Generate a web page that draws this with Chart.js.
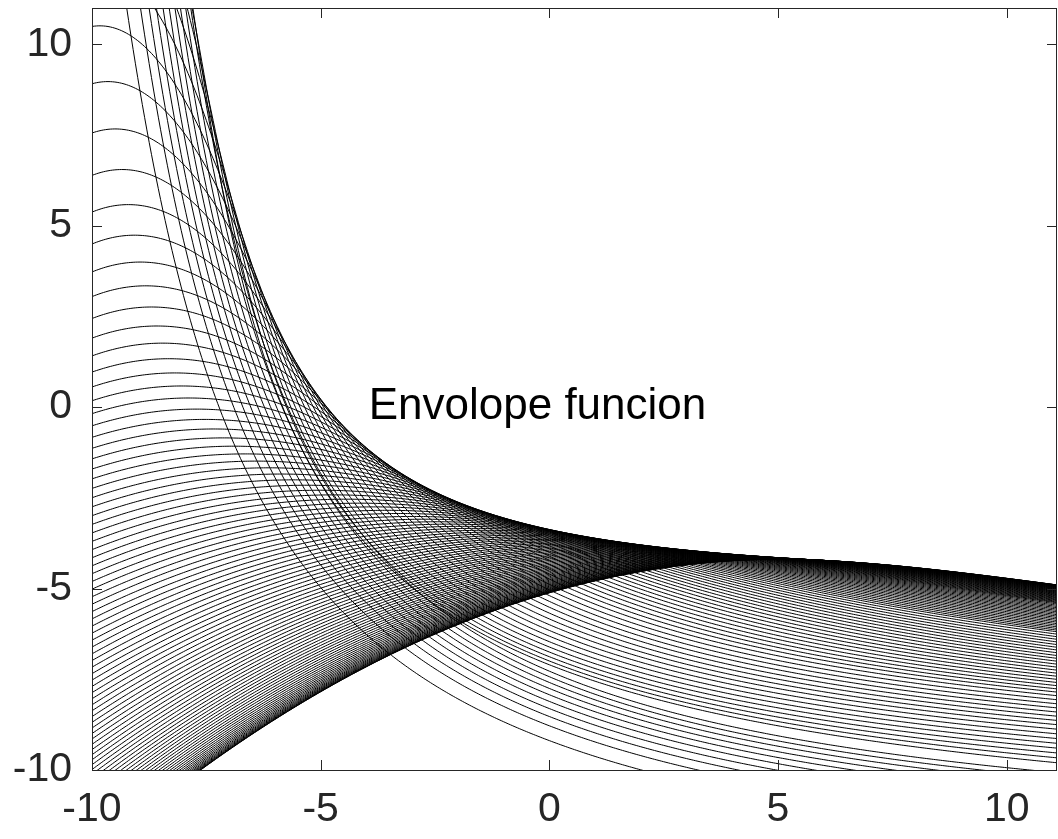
<!DOCTYPE html>
<html>
<head>
<meta charset="utf-8">
<script src="https://cdn.jsdelivr.net/npm/chart.js@4.4.1/dist/chart.umd.min.js"></script>
<style>
  html, body { margin: 0; background: #fff; }
  #wrap { width: 1058px; height: 839px; }
</style>
</head>
<body>
<div id="wrap"><canvas id="plot"></canvas></div>
<script>
// axes
const xTicks = [-10, -5, 0, 5, 10];
const yTicks = [-10, -5, 0, 5, 10];
const xRange = [-10, 11.1];
const yRange = [-10, 11];
const label = { text: 'Envolope funcion', x: -3.95, y: 0 };

// upper envelope fitted to the edge of the black band: y = a + b / (x + h)^n
const envA = -4.7, envB = 1351, envH = 13, envN = 2.7;

// curves touching the envelope at t, t from tFirst to tLast, bunched toward the lowest one
const tFirst = -7.85, tLast = 6, curveCount = 100, bunching = 1.8;
const kBase = 0.036, kAmp = 1.476, kDecay = 0.7, tailBend = 0.5, tailPower = 0.35;
// height of each falling tail at the right edge, by touching point
const rightT = [-7.85, -6, -4.2, -2, 0, 3, 6];
const rightY = [-9.8, -8.8, -7.9, -7.0, -6.2, -5.4, -4.9];

// steep curves coming in from the top left, first and last of the group:
// peak position, width, height above the floor, floor
const steepCount = 10;
const steepPeakX = [-11, -9.5];
const steepWidth = [1.5, 1.34];
const steepHeight = [39.3, 37.4];
const steepFloor = [-14.5, -12.5];

const xStep = 0.05;

const env = x => envA + envB * Math.pow(x + envH, -envN);
const env1 = x => -envN * envB * Math.pow(x + envH, -envN - 1);

function lerp(xs, ys, v) {
  if (v <= xs[0]) return ys[0];
  for (let i = 1; i < xs.length; i++) {
    if (v <= xs[i]) return ys[i - 1] + (ys[i] - ys[i - 1]) * (v - xs[i - 1]) / (xs[i] - xs[i - 1]);
  }
  return ys[ys.length - 1];
}

function sample(fn) {
  const pts = [];
  for (let x = xRange[0]; x <= xRange[1] + 1e-9; x += xStep) {
    pts.push({ x: x, y: Math.max(-40, Math.min(60, fn(x))) });
  }
  return pts;
}

function touchingCurve(t) {
  const k = kBase + kAmp * Math.exp(-kDecay * (t + 8));
  const e0 = env(t), s = env1(t), p = tailPower;
  const tail = (floor, u) => {
    const h = e0 - floor;
    const a = -s / (h * p);
    const b = (p + 1) * a * a / 2 + tailBend * k / (h * p);
    return floor + h * Math.pow(1 + a * u + b * u * u, -p);
  };
  // pick the floor so the tail ends at the height read at the right edge
  const target = lerp(rightT, rightY, t);
  const uEnd = xRange[1] - t;
  let lo = -300, hi = e0 - 0.01;
  for (let n = 0; n < 80; n++) {
    const mid = (lo + hi) / 2;
    if (tail(mid, uEnd) > target) hi = mid; else lo = mid;
  }
  const floor = (lo + hi) / 2;
  return sample(x => {
    const u = x - t;
    return u <= 0 ? e0 + s * u - k * u * u : tail(floor, u);
  });
}

function steepCurve(f) {
  const mix = arr => arr[0] + (arr[1] - arr[0]) * f;
  const xc = mix(steepPeakX), w = mix(steepWidth), H = mix(steepHeight), F = mix(steepFloor);
  return sample(x => F + H / Math.sqrt(1 + ((x - xc) / w) ** 2));
}

const line = data => ({ data, borderColor: '#000', borderWidth: 1, pointRadius: 0, tension: 0, fill: false });
const datasets = [];
for (let i = 0; i < steepCount; i++) {
  datasets.push(line(steepCurve(Math.pow(i / (steepCount - 1), 0.7))));
}
for (let i = 0; i < curveCount; i++) {
  const f = 1 - i / (curveCount - 1);
  datasets.push(line(touchingCurve(tLast - (tLast - tFirst) * Math.pow(f, bunching))));
}

const ink = '#262626';
const font = { family: '"Liberation Sans", Arial, Helvetica, sans-serif', size: 41 };

// box on all four sides with inward ticks, matlab style
const boxPlugin = {
  id: 'box',
  afterDatasetsDraw(chart) {
    const { ctx, chartArea: a, scales: { x, y } } = chart;
    ctx.save();
    ctx.strokeStyle = ink;
    ctx.lineWidth = 1;
    ctx.strokeRect(a.left + 0.5, a.top + 0.5, a.right - a.left - 1, a.bottom - a.top);
    const len = 10;
    ctx.beginPath();
    xTicks.forEach(v => {
      const px = Math.round(x.getPixelForValue(v)) + 0.5;
      ctx.moveTo(px, a.bottom); ctx.lineTo(px, a.bottom - len);
      ctx.moveTo(px, a.top); ctx.lineTo(px, a.top + len);
    });
    yTicks.forEach(v => {
      const py = Math.round(y.getPixelForValue(v)) + 0.5;
      ctx.moveTo(a.left, py); ctx.lineTo(a.left + len, py);
      ctx.moveTo(a.right, py); ctx.lineTo(a.right - len, py);
    });
    ctx.stroke();
    ctx.fillStyle = '#000';
    ctx.font = '44px "Liberation Sans", Arial, Helvetica, sans-serif';
    ctx.textAlign = 'left';
    ctx.textBaseline = 'middle';
    ctx.fillText(label.text, x.getPixelForValue(label.x), y.getPixelForValue(label.y));
    ctx.restore();
  }
};

new Chart(document.getElementById('plot'), {
  type: 'line',
  data: { datasets },
  plugins: [boxPlugin],
  options: {
    responsive: true, maintainAspectRatio: false, animation: false, events: [],
    parsing: false, normalized: true,
    layout: { padding: { top: 8, right: 1, left: 0, bottom: 0 } },
    plugins: { legend: { display: false }, tooltip: { enabled: false } },
    scales: {
      x: {
        type: 'linear', min: xRange[0], max: xRange[1],
        afterBuildTicks: s => { s.ticks = xTicks.map(v => ({ value: v })); },
        afterFit: s => { s.height = 69; s.paddingLeft = 0; s.paddingRight = 0; },
        grid: { display: false, drawTicks: false },
        border: { display: false },
        ticks: { font, color: ink, padding: 15, maxRotation: 0, autoSkip: false }
      },
      y: {
        type: 'linear', min: yRange[0], max: yRange[1],
        afterBuildTicks: s => { s.ticks = yTicks.map(v => ({ value: v })); },
        afterFit: s => { s.width = 92; s.paddingTop = 0; s.paddingBottom = 0; },
        grid: { display: false, drawTicks: false },
        border: { display: false },
        ticks: { font, color: ink, padding: 20, autoSkip: false }
      }
    }
  }
});
</script>
</body>
</html>
